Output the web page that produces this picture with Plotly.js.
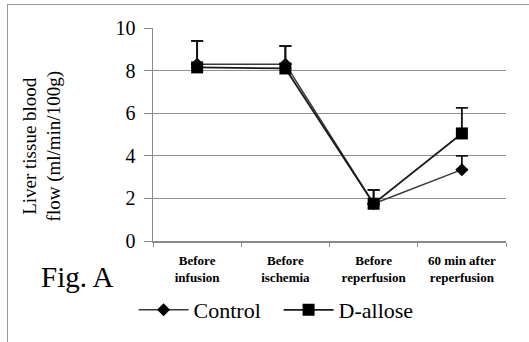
<!DOCTYPE html>
<html><head><meta charset="utf-8">
<script src="https://cdn.plot.ly/plotly-3.0.1.min.js"></script>
<style>
html,body{margin:0;padding:0;background:#fff;}
#wrap{position:relative;width:529px;height:342px;}
#chart{position:absolute;left:0;top:0;width:529px;height:342px;}
#frame{position:absolute;left:7px;top:4px;width:530px;height:340px;border-left:1.5px solid #9a9a9a;border-top:1.5px solid #9a9a9a;pointer-events:none;}
</style>
</head><body>
<div id="wrap"><div id="chart"></div><div id="frame"></div></div>
<script>
const categories = ["Before<br>infusion", "Before<br>ischemia", "Before<br>reperfusion", "60 min after<br>reperfusion"];
const controlValues = [8.3, 8.3, 1.75, 3.35];
const controlErrors = [1.1, 0.85, 0.65, 0.65];
const alloseValues = [8.15, 8.1, 1.75, 5.05];
const alloseErrors = [1.25, 1.05, 0.65, 1.2];
const yTicks = [0, 2, 4, 6, 8, 10];

const SERIF = "Liberation Serif";

const traces = [
  {
    x: categories, y: controlValues, name: "Control", type: "scatter", mode: "lines+markers",
    line: {color: "#3a3a3a", width: 1.5},
    marker: {symbol: "diamond", size: 10, color: "#000"},
    error_y: {type: "data", symmetric: false, array: controlErrors, arrayminus: [0,0,0,0], color: "#111", thickness: 1.8, width: 6}
  },
  {
    x: categories, y: alloseValues, name: "D-allose", type: "scatter", mode: "lines+markers",
    line: {color: "#1a1a1a", width: 1.8},
    marker: {symbol: "square", size: 12, color: "#000"},
    error_y: {type: "data", symmetric: false, array: alloseErrors, arrayminus: [0,0,0,0], color: "#111", thickness: 1.8, width: 6}
  }
];

const layout = {
  width: 529, height: 342,
  margin: {l: 153, r: 23, t: 28, b: 100},
  paper_bgcolor: "#fff", plot_bgcolor: "#fff",
  font: {family: SERIF, color: "#000"},
  showlegend: true,
  legend: {orientation: "h", x: -0.055, xanchor: "left", y: -0.318, yanchor: "middle",
    font: {size: 22, family: SERIF}, itemwidth: 50, entrywidth: 80, entrywidthmode: "pixels", tracegroupgap: 0},
  xaxis: {
    type: "category", tickson: "boundaries", ticks: "outside", ticklen: 4, tickcolor: "#8a8a8a",
    showline: true, linecolor: "#8a8a8a", linewidth: 1.5, showgrid: false,
    tickfont: {size: 13, family: SERIF, weight: "bold"}, ticklabelstandoff: 7,
    range: [-0.5, 3.5]
  },
  yaxis: {
    range: [0, 10], tickmode: "array", tickvals: yTicks, ticks: "outside", ticklen: 8, tickcolor: "#8a8a8a",
    showline: true, linecolor: "#8a8a8a", linewidth: 1.5,
    showgrid: true, gridcolor: "#8f8f8f", zeroline: false,
    tickfont: {size: 20, family: SERIF}, ticklabelstandoff: 4
  },
  annotations: [
    {text: "Liver tissue blood<br>flow (ml/min/100g)", xref: "paper", yref: "paper",
     x: (42 - 153) / 353, y: (242 - 147) / 214, xanchor: "center", yanchor: "middle",
     textangle: -90, showarrow: false, font: {size: 19, family: SERIF}},
    {text: "Fig. A", xref: "paper", yref: "paper",
     x: (77 - 153) / 353, y: (242 - 278) / 214, xanchor: "center", yanchor: "middle",
     showarrow: false, font: {size: 29, family: SERIF}}
  ]
};

Plotly.newPlot("chart", traces, layout, {displayModeBar: false, staticPlot: true});
</script>
</body></html>
